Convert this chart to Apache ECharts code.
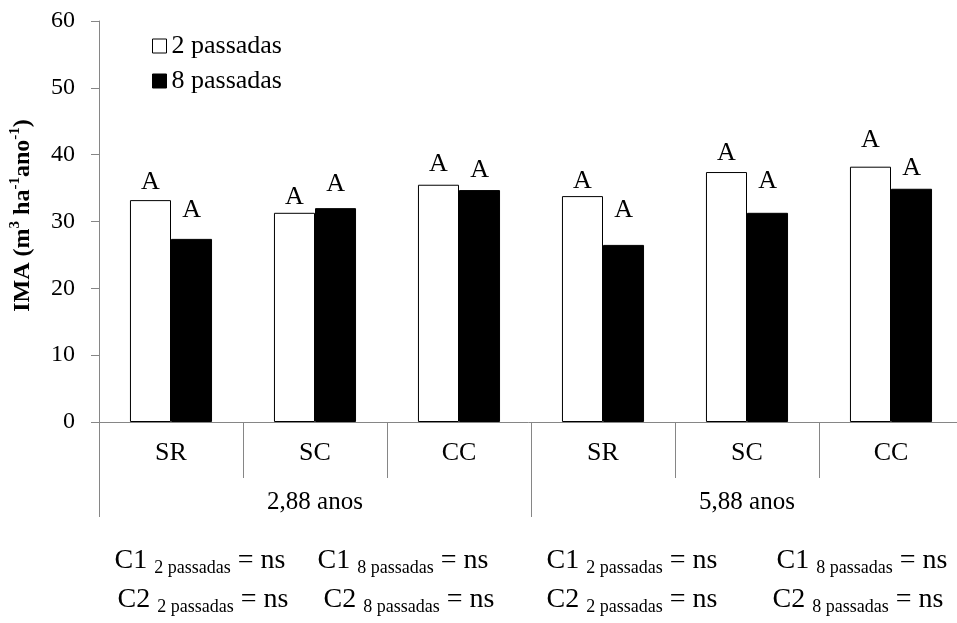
<!DOCTYPE html>
<html>
<head>
<meta charset="utf-8">
<script src="https://cdn.jsdelivr.net/npm/echarts@6/dist/echarts.min.js"></script>
<style>
html, body { margin: 0; padding: 0; background: #fff; }
#chart { width: 957px; height: 623px; }
</style>
</head>
<body>
<div id="chart"></div>
<script>
// Treatments along the bottom axis, grouped by stand age
const categories = ['SR', 'SC', 'CC', 'SR', 'SC', 'CC'];
const ageGroups = ['2,88 anos', '5,88 anos'];
const seriesNames = ['2 passadas', '8 passadas'];

// Mean annual increment (m3 ha-1 ano-1)
const ima2Passadas = [33.2, 31.3, 35.5, 33.8, 37.4, 38.2];
const ima8Passadas = [27.4, 32.0, 34.7, 26.5, 31.3, 34.9];

// Significance letters above each bar
const letters2Passadas = ['A', 'A', 'A', 'A', 'A', 'A'];
const letters8Passadas = ['A', 'A', 'A', 'A', 'A', 'A'];

// Contrast results printed under each age group
const contrastNames = ['C1', 'C1', 'C1', 'C1', 'C2', 'C2', 'C2', 'C2'];
const contrastSubs = ['2 passadas', '8 passadas', '2 passadas', '8 passadas',
                      '2 passadas', '8 passadas', '2 passadas', '8 passadas'];
const contrastResults = ['ns', 'ns', 'ns', 'ns', 'ns', 'ns', 'ns', 'ns'];

const yMin = 0, yMax = 60, yStep = 10;

const FONT = "'Liberation Serif', 'Times New Roman', serif";
const AXIS_GREY = '#868686';

// extra lift of each letter above its bar
const lift2 = [5, 3, 7.5, 2, 5.5, 14];
const lift8 = [16, 11, 6.5, 22, 18.5, 8];

function barData(values, letters, lifts) {
  return values.map((v, i) => ({
    value: v,
    label: { formatter: letters[i], distance: lifts[i] }
  }));
}

// layout of the contrast lines: column centres and row centres
const contrastX = [200, 403, 632, 862, 203, 409, 632, 858];
const contrastY = [561, 561, 561, 561, 600, 600, 600, 600];

const contrastGraphics = contrastNames.map((name, i) => ({
  type: 'text',
  x: contrastX[i],
  y: contrastY[i],
  style: {
    text: '{m|' + name + ' }{s|' + contrastSubs[i] + '}{m| = ' + contrastResults[i] + '}',
    align: 'center',
    verticalAlign: 'middle',
    fill: '#000',
    rich: {
      m: { fontFamily: FONT, fontSize: 28, lineHeight: 32, verticalAlign: 'middle', fill: '#000' },
      s: { fontFamily: FONT, fontSize: 18, lineHeight: 15, verticalAlign: 'bottom', fill: '#000' }
    }
  }
}));

const chart = echarts.init(document.getElementById('chart'), null, { renderer: 'canvas' });

chart.setOption({
  animation: false,
  backgroundColor: '#fff',
  textStyle: { fontFamily: FONT, color: '#000' },
  grid: { left: 99, right: -6, top: 21, bottom: 201, containLabel: false, outerBoundsMode: 'none' },
  legend: {
    orient: 'vertical',
    left: 147,
    top: 28,
    itemWidth: 14,
    itemHeight: 14,
    itemGap: 9,
    selectedMode: false,
    textStyle: { fontFamily: FONT, fontSize: 26, color: '#000' },
    data: [
      { name: seriesNames[0], icon: 'rect', itemStyle: { color: '#fff', borderColor: '#000', borderWidth: 1 } },
      { name: seriesNames[1], icon: 'rect', itemStyle: { color: '#000', borderColor: '#000', borderWidth: 1 } }
    ]
  },
  xAxis: [
    {
      type: 'category',
      data: categories,
      position: 'bottom',
      axisLine: { show: true, lineStyle: { color: AXIS_GREY, width: 1 } },
      axisTick: { show: true, interval: 0, length: 56, lineStyle: { color: AXIS_GREY } },
      axisLabel: { interval: 0, margin: 18, fontFamily: FONT, fontSize: 26, color: '#000' },
      splitLine: { show: false }
    },
    {
      type: 'category',
      data: ageGroups,
      position: 'bottom',
      axisLine: { show: false },
      axisTick: { show: true, interval: 0, length: 95, lineStyle: { color: AXIS_GREY } },
      axisLabel: { interval: 0, margin: 68, fontFamily: FONT, fontSize: 25, color: '#000' },
      splitLine: { show: false }
    }
  ],
  yAxis: {
    type: 'value',
    min: yMin,
    max: yMax,
    interval: yStep,
    name: '{b|IMA (m}{s|3}{b| ha}{s|-1}{b|ano}{s|-1}{b|)}',
    nameLocation: 'middle',
    nameRotate: 90,
    nameGap: 64,
    nameTextStyle: {
      fontFamily: FONT,
      fontWeight: 'bold',
      color: '#000',
      padding: [0, 0, 0, 12],
      rich: {
        b: { fontFamily: FONT, fontWeight: 'bold', fontSize: 24, lineHeight: 27, verticalAlign: 'bottom', color: '#000' },
        s: { fontFamily: FONT, fontWeight: 'bold', fontSize: 15, lineHeight: 15, verticalAlign: 'top', color: '#000' }
      }
    },
    axisLine: { show: true, lineStyle: { color: AXIS_GREY, width: 1 } },
    axisTick: { show: true, length: 8, lineStyle: { color: AXIS_GREY } },
    axisLabel: { margin: 24, fontFamily: FONT, fontSize: 24, color: '#000' },
    splitLine: { show: false }
  },
  series: [
    {
      name: seriesNames[0],
      type: 'bar',
      xAxisIndex: 0,
      barWidth: '28.5%',
      barGap: '0%',
      itemStyle: { color: '#fff', borderColor: '#000', borderWidth: 1 },
      label: { show: true, position: 'top', fontFamily: FONT, fontSize: 26, color: '#000' },
      data: barData(ima2Passadas, letters2Passadas, lift2)
    },
    {
      name: seriesNames[1],
      type: 'bar',
      xAxisIndex: 0,
      barWidth: '28.5%',
      barGap: '0%',
      itemStyle: { color: '#000', borderColor: '#000', borderWidth: 1 },
      label: { show: true, position: 'top', fontFamily: FONT, fontSize: 26, color: '#000' },
      data: barData(ima8Passadas, letters8Passadas, lift8)
    }
  ],
  graphic: contrastGraphics
});
</script>
</body>
</html>
